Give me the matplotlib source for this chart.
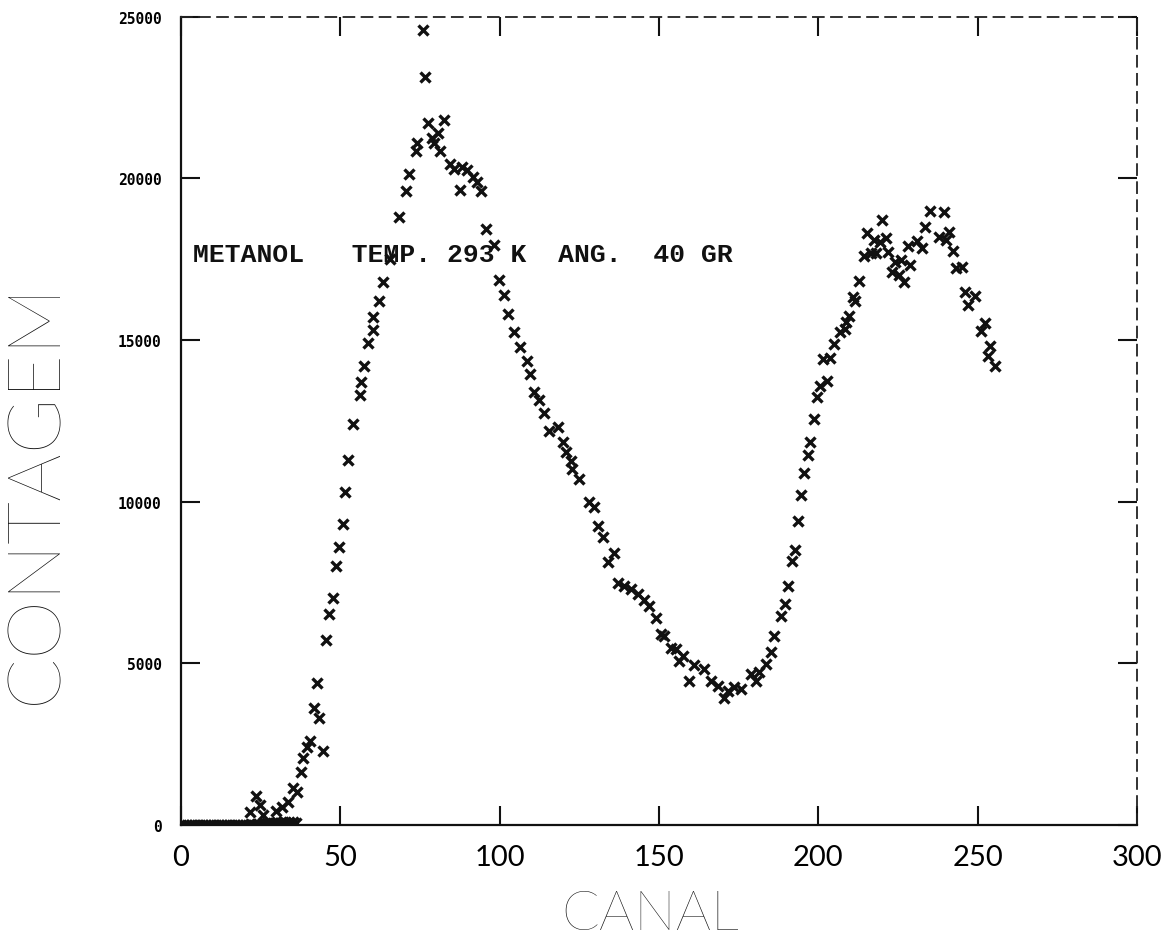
import matplotlib
matplotlib.use("Agg")
import matplotlib.pyplot as plt

# baseline channels (flat at zero, drawn as a thick band on the axis)
canal_base = [0, 1, 2, 3, 4, 5, 6, 7, 8, 9, 10, 11, 12, 13, 14, 15, 16, 17, 18,
              19, 20, 21, 22, 23, 24, 25, 26, 27, 28, 29, 30, 31, 32, 33, 34, 35, 36]
contagem_base = [0, 0, 0, 0, 0, 0, 0, 0, 0, 0, 0, 0, 0, 0, 0, 0, 0, 0, 0,
                 0, 0, 0, 30, 0, 40, 0, 20, 60, 40, 60, 80, 60, 90, 60, 80, 100, 60]

# spectrum points
canal = [21.7, 23.6, 24.8, 25.8, 29.9, 31.8, 33.6, 35.2, 36.5, 37.7, 38.4, 39.6,
         40.6, 41.8, 42.8, 43.4, 44.7, 45.6, 46.5, 47.8, 48.7, 49.7, 50.9, 51.6,
         52.5, 54.1, 56.3, 56.6, 57.5, 58.8, 60.1, 60.4, 62.1, 63.5, 65.6, 68.4,
         70.6, 71.6, 73.6, 74.2, 75.8, 76.7, 77.4, 78.9, 79.4, 80.5, 81.3, 82.4,
         84.3, 85.6, 87.4, 88.2, 89.8, 91.6, 92.8, 94.2, 95.8, 98.1, 99.7, 101.3,
         102.6, 104.4, 106.3, 108.5, 109.4, 110.7, 112.3, 113.8, 115.4, 118.2,
         119.8, 120.8, 122.3, 122.6, 124.8, 128.0, 129.6, 130.8, 132.4, 134.0,
         135.8, 137.1, 139.0, 141.2, 143.4, 145.3, 146.9, 149.0, 150.6, 151.6,
         153.8, 155.3, 156.3, 157.5, 159.4, 161.0, 164.2, 166.4, 168.6, 170.4,
         171.7, 173.6, 175.8, 178.9, 180.5, 181.4, 183.6, 185.2, 186.2, 188.4,
         189.6, 190.6, 191.8, 192.8, 193.7, 194.7, 195.6, 196.9, 197.5, 198.7,
         199.7, 200.6, 201.6, 202.8, 203.8, 205.0, 206.9, 208.2, 208.8, 209.7,
         211.0, 211.6, 212.9, 214.2, 215.1, 216.4, 217.6, 218.2, 219.2, 220.1,
         221.1, 222.0, 223.0, 223.9, 225.2, 225.8, 227.0, 228.0, 228.9, 230.8,
         232.4, 233.6, 234.9, 237.7, 239.3, 239.9, 240.9, 242.1, 243.1, 245.0,
         246.0, 246.9, 249.0, 251.0, 252.2, 253.1, 254.0, 255.3]
contagem = [400, 900, 620, 300, 430, 560, 710, 1140, 1020, 1640, 2070, 2410,
            2600, 3620, 4400, 3310, 2290, 5730, 6530, 7030, 8020, 8600, 9300, 10300,
            11300, 12400, 13300, 13700, 14200, 14900, 15300, 15700, 16200, 16800, 17500, 18800,
            19600, 20150, 20850, 21100, 24600, 23150, 21700, 21250, 21100, 21400, 20850, 21800,
            20450, 20300, 19650, 20350, 20250, 20050, 19900, 19600, 18450, 17950, 16850, 16400,
            15800, 15250, 14800, 14350, 13950, 13400, 13150, 12750, 12200, 12300,
            11850, 11550, 11250, 11000, 10700, 10000, 9850, 9250, 8900, 8150,
            8400, 7500, 7400, 7300, 7150, 6950, 6780, 6400, 5900, 5850,
            5480, 5450, 5080, 5230, 4460, 4950, 4830, 4460, 4300, 3930,
            4150, 4270, 4210, 4670, 4460, 4740, 4980, 5350, 5850, 6470,
            6840, 7400, 8170, 8510, 9410, 10210, 10890, 11450, 11850, 12570,
            13250, 13590, 14420, 13740, 14450, 14890, 15260, 15350, 15570, 15750,
            16340, 16220, 16840, 17610, 18320, 17700, 18110, 17700, 18040, 18720,
            18170, 17730, 17110, 17420, 17020, 17490, 16810, 17920, 17330, 18070,
            17860, 18510, 19000, 18200, 18970, 18100, 18350, 17770, 17240, 17270,
            16500, 16090, 16370, 15290, 15540, 14520, 14830, 14210]

x_ticks = [0, 50, 100, 150, 200, 250, 300]
y_ticks = [0, 5000, 10000, 15000, 20000, 25000]

narrow = ['DejaVu Sans Condensed', 'Lato']
thin = ['Lato', 'DejaVu Sans']

fig = plt.figure(figsize=(11.66, 9.53), dpi=100)
ax = fig.add_axes([0.1552, 0.1333, 0.820, 0.848])

ax.plot(canal_base, contagem_base, linestyle='none', marker='x', color='#111111',
        markersize=6.5, markeredgewidth=2.4)
ax.plot(canal, contagem, linestyle='none', marker='x', color='#111111',
        markersize=6.5, markeredgewidth=2.4)

ax.set_xlim(0, 300)
ax.set_ylim(0, 25000)
ax.set_xticks(x_ticks)
ax.set_yticks(y_ticks)

ax.tick_params(axis='both', direction='in', length=14, width=1.5, color='#111111',
               top=True, right=True)
ax.tick_params(axis='x', pad=14)
ax.tick_params(axis='y', pad=14)
for lab in ax.get_xticklabels():
    lab.set_family(narrow)
    lab.set_fontsize(21)
for lab in ax.get_yticklabels():
    lab.set_family('DejaVu Sans Mono')
    lab.set_fontweight('bold')
    lab.set_fontsize(10.5)

for side in ['left', 'bottom']:
    ax.spines[side].set_linewidth(1.6)
    ax.spines[side].set_color('#111111')
for side in ['top', 'right']:
    ax.spines[side].set_linewidth(1.3)
    ax.spines[side].set_color('#222222')
    ax.spines[side].set_linestyle((0, (6, 4)))

ax.set_xlabel('CANAL', fontsize=40, family=thin, fontweight='light', color='#111111')
ax.xaxis.set_label_coords(0.4906, -0.110)
ax.xaxis.label.set_verticalalignment('center')

ax.set_ylabel('CONTAGEM', fontsize=54, family=thin, fontweight='light', color='#111111')
ax.yaxis.set_label_coords(-0.151, 0.413)
ax.yaxis.label.set_verticalalignment('center')

ax.text(3.7, 17670, 'METANOL   TEMP. 293 K  ANG.  40 GR', family='Liberation Mono',
        fontsize=19, fontweight='bold', va='center', ha='left', color='#111111')

fig.savefig('out.png', dpi=100)
